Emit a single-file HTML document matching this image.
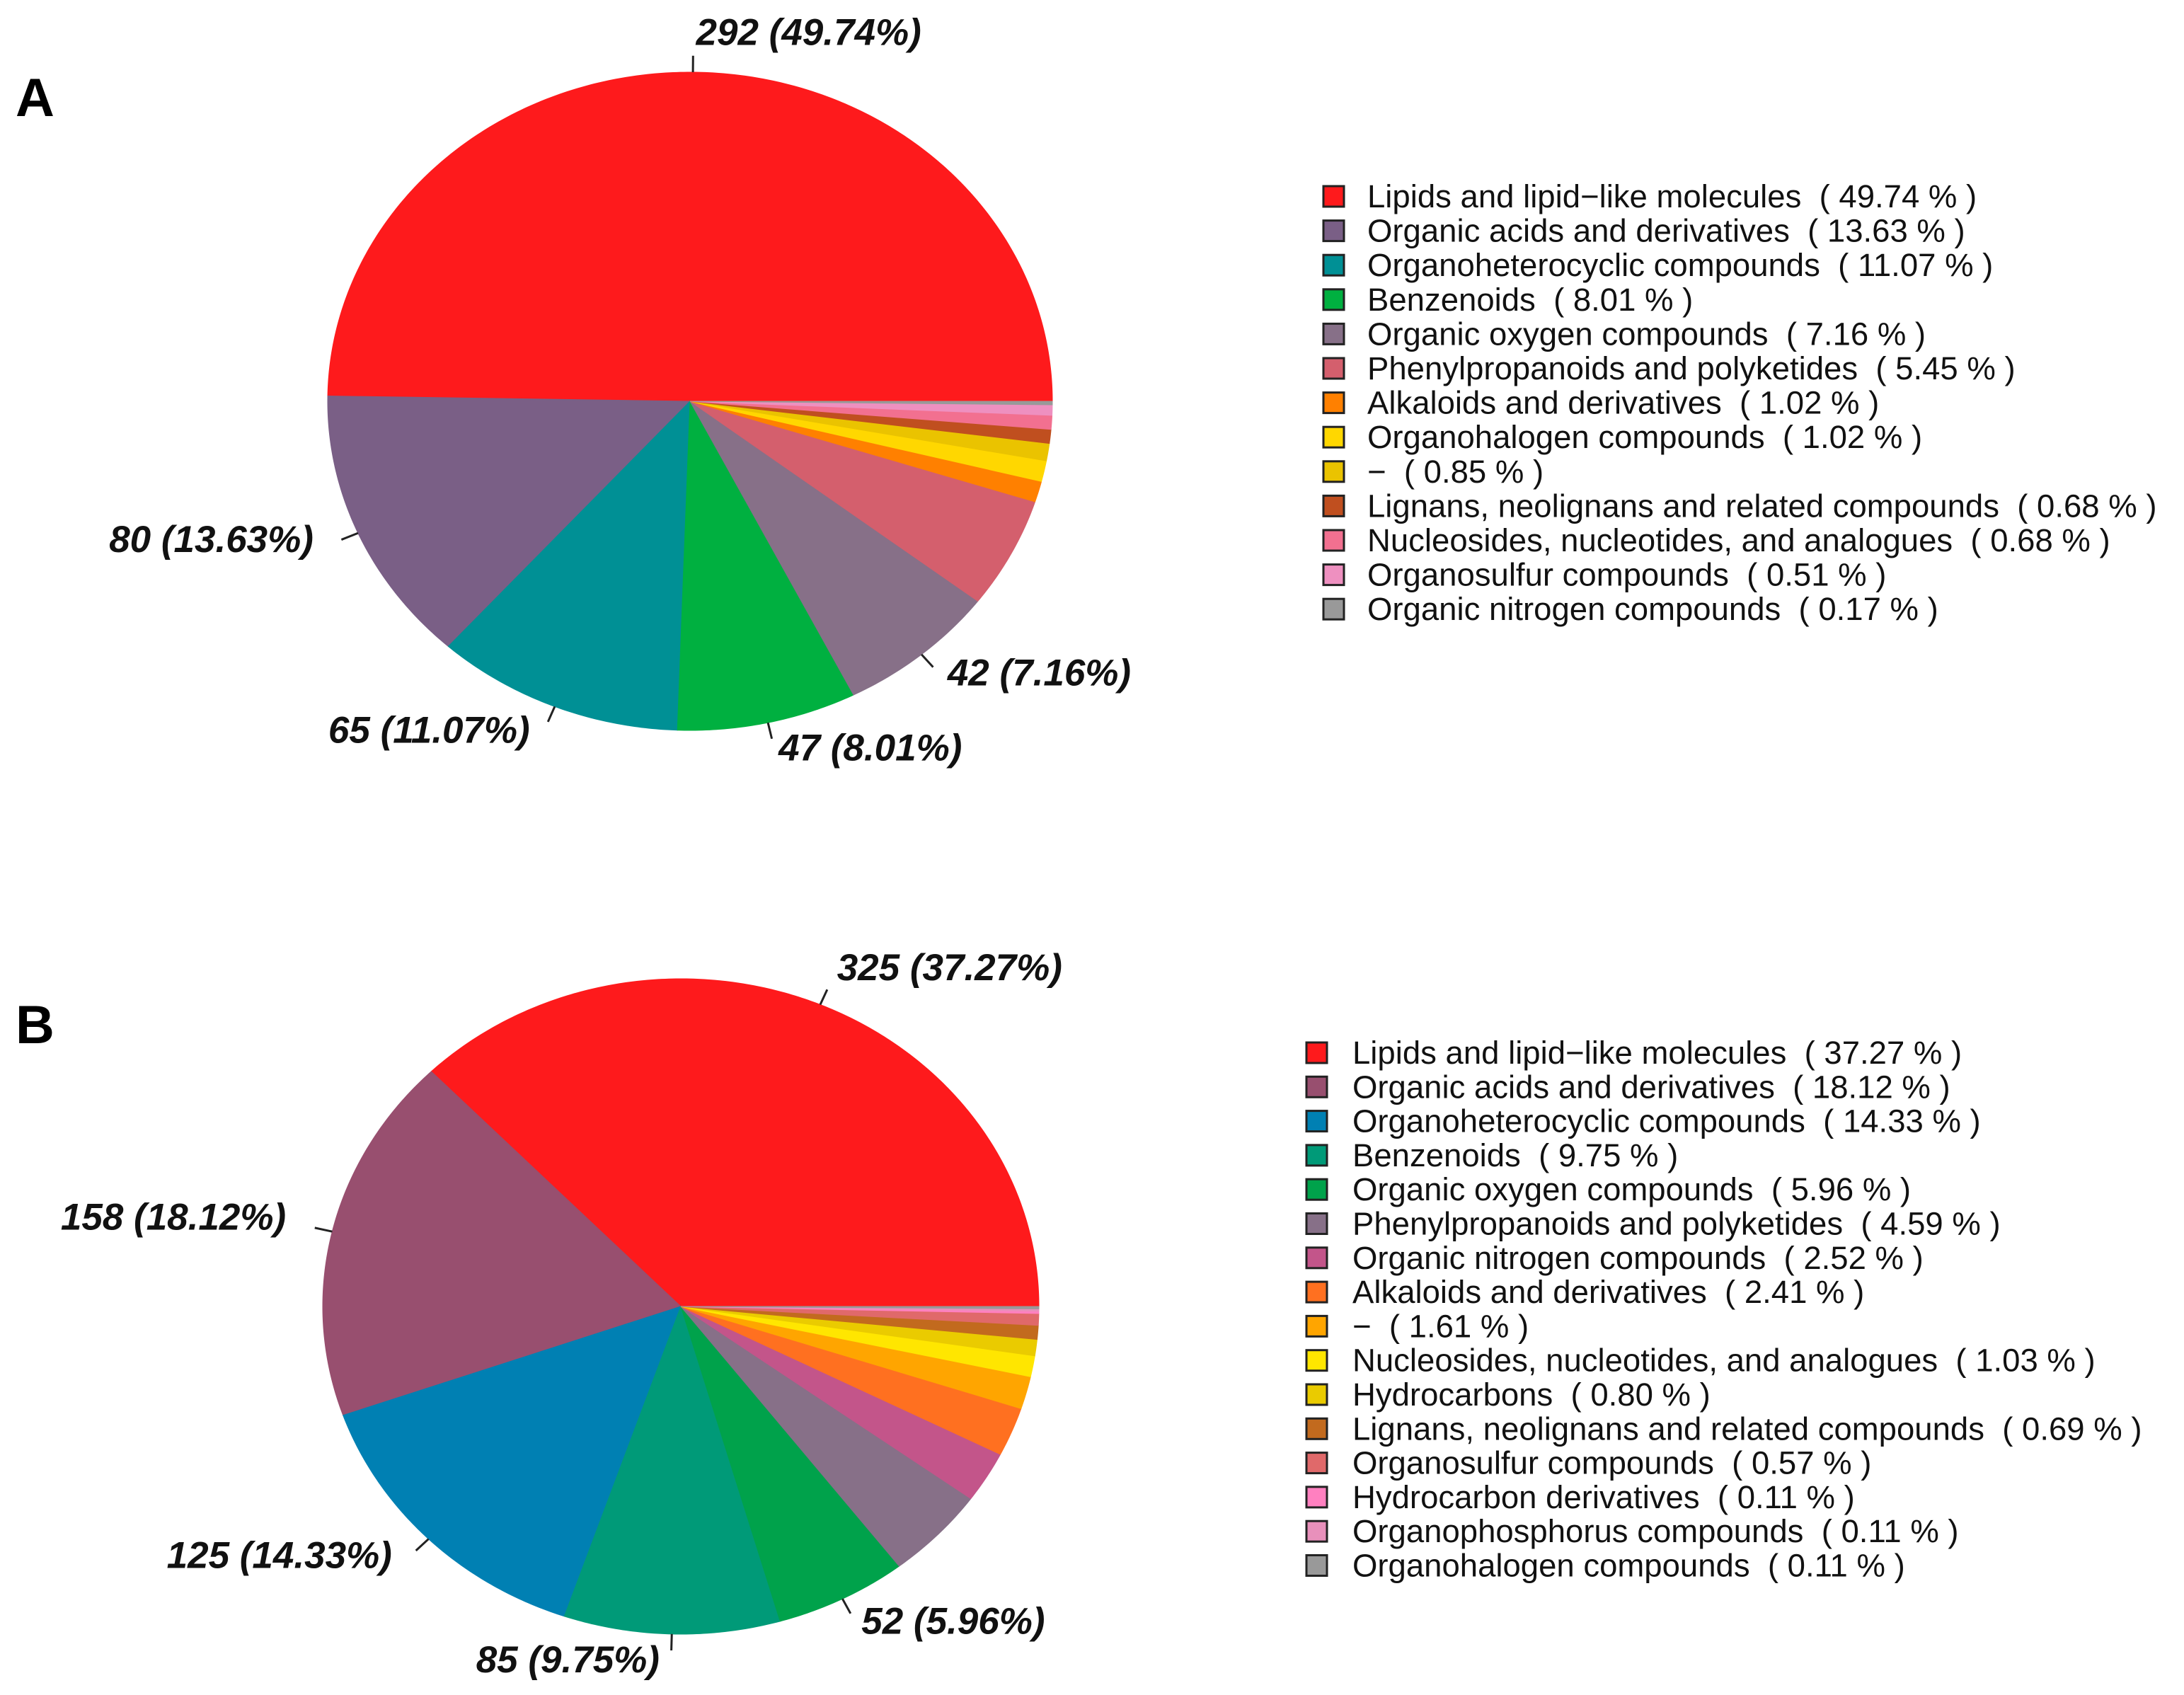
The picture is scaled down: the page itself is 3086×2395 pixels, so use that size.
<!DOCTYPE html>
<html><head><meta charset="utf-8"><style>
html,body{margin:0;padding:0;background:#fff}
svg{display:block}
text{font-family:"Liberation Sans",sans-serif;white-space:pre}
.lbl{font-weight:bold;font-style:italic;font-size:53px;fill:#111}
.leg{font-size:45.5px;fill:#111}
</style></head><body>
<svg id="chart" width="3086" height="2395" viewBox="0 0 3086 2395" xmlns="http://www.w3.org/2000/svg">
<text x="22" y="164" font-size="76" font-weight="bold">A</text>
<text x="22" y="1474" font-size="76" font-weight="bold">B</text>
<g id="pieA"></g>
<g id="pieB"></g>
<g id="legA"></g>
<g id="legB"></g>
</svg>
<script>
const categoriesA = ["Lipids and lipid\u2212like molecules","Organic acids and derivatives","Organoheterocyclic compounds","Benzenoids","Organic oxygen compounds","Phenylpropanoids and polyketides","Alkaloids and derivatives","Organohalogen compounds","\u2212","Lignans, neolignans and related compounds","Nucleosides, nucleotides, and analogues","Organosulfur compounds","Organic nitrogen compounds"];
const countsA = [292,80,65,47,42,32,6,6,5,4,4,3,1];
const colorsA = ["#fe1a1c","#7a5f86","#009095","#00b040","#877088","#d45f6d","#ff8000","#ffd700","#eac300","#c04f1f","#f27090","#ee90c0","#999999"];

const categoriesB = ["Lipids and lipid\u2212like molecules","Organic acids and derivatives","Organoheterocyclic compounds","Benzenoids","Organic oxygen compounds","Phenylpropanoids and polyketides","Organic nitrogen compounds","Alkaloids and derivatives","\u2212","Nucleosides, nucleotides, and analogues","Hydrocarbons","Lignans, neolignans and related compounds","Organosulfur compounds","Hydrocarbon derivatives","Organophosphorus compounds","Organohalogen compounds"];
const countsB = [325,158,125,85,52,40,22,21,14,9,7,6,5,1,1,1];
const colorsB = ["#fe1a1c","#984f6f","#0080b3","#009a78","#00a24b","#877088","#c3558a","#ff7020","#ffa500","#ffe600","#eacb00","#c26a1e","#e0696a","#ff80c0","#e890bb","#999999"];

const NS="http://www.w3.org/2000/svg";
function mk(tag,attrs,parent){const e=document.createElementNS(NS,tag);for(const k in attrs)e.setAttribute(k,attrs[k]);parent.appendChild(e);return e;}

function drawPie(gid,counts,colors,cx,cy,rx,ry,nLabels){
  const g=document.getElementById(gid);
  const total=counts.reduce((a,b)=>a+b,0);
  let a0=0;
  counts.forEach((c,i)=>{
    const span=c/total*2*Math.PI;
    const a1=a0+span;
    const steps=Math.max(2,Math.ceil(span/0.01));
    let d=`M${cx},${cy}`;
    for(let s=0;s<=steps;s++){const t=a0+span*s/steps;d+=` L${(cx+rx*Math.cos(t)).toFixed(2)},${(cy-ry*Math.sin(t)).toFixed(2)}`;}
    d+="Z";
    const p=mk("path",{d:d,fill:colors[i],stroke:colors[i],"stroke-width":"1"},g);
    
    
    if(i<nLabels){
      const m=(a0+a1)/2, co=Math.cos(m), si=Math.sin(m);
      const ln=mk("line",{x1:cx+rx*co,y1:cy-ry*si,x2:cx+rx*1.05*co,y2:cy-ry*1.05*si,stroke:"#222","stroke-width":"3"},g);
      
      
      const lx=cx+rx*1.1*co+(co>=0?4:-16), ly=cy-ry*1.1*si+8;
      const t=mk("text",{x:lx,y:ly,class:"lbl","text-anchor":co>=0?"start":"end"},g);
      t.textContent=c+" ("+(c/total*100).toFixed(2)+"%)";
      
      
    }
    a0=a1;
  });
}

function drawLegend(gid,cats,counts,colors,sx,tx,y0,dy){
  const g=document.getElementById(gid);
  const total=counts.reduce((a,b)=>a+b,0);
  cats.forEach((name,i)=>{
    const y=y0+i*dy;
    const r=mk("rect",{x:sx,y:y-14,width:29,height:29,fill:colors[i],stroke:"#222","stroke-width":"3"},g);
    
    
    const t=mk("text",{x:tx,y:y+16,class:"leg"},g);
    t.textContent=name+"  ( "+(counts[i]/total*100).toFixed(2)+" % )";
    
    
  });
}

drawPie("pieA",countsA,colorsA,975,567,512,465,5);
drawPie("pieB",countsB,colorsB,962,1846,506,463,5);
drawLegend("legA",categoriesA,countsA,colorsA,1870,1932,277,48.6);
drawLegend("legB",categoriesB,countsB,colorsB,1846,1911,1487,48.3);
</script>
</body></html>
